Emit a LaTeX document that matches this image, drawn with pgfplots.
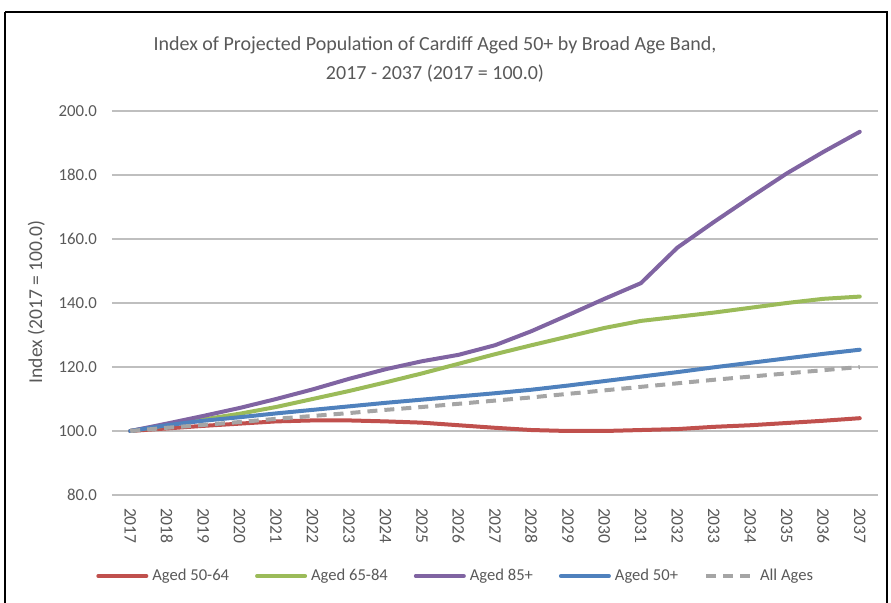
\documentclass[border=0pt]{standalone}
\usepackage{fontspec}
\setmainfont{Carlito}
\usepackage{pgfplots}
\pgfplotsset{compat=1.18}
\definecolor{cRed}{HTML}{C0504D}
\definecolor{cGreen}{HTML}{9BBB59}
\definecolor{cPurple}{HTML}{8064A2}
\definecolor{cBlue}{HTML}{4F81BD}
\definecolor{cGray}{HTML}{A5A5A5}
\definecolor{txt}{HTML}{595959}
\definecolor{grid}{HTML}{D9D9D9}
\begin{document}
\begin{tikzpicture}[x=0.5pt,y=-0.5pt]
\path[use as bounding box] (0,0) rectangle (891,603);
\begin{scope}
\clip (0,0) rectangle (891,603);
\draw[black,line width=1.1pt] (5,12) -- (887,12) -- (887,640) (5,12) -- (5,640);
\end{scope}
\node[txt,font=\fontsize{10}{12}\selectfont] at (435,45) {Index of Projected Population of Cardiff Aged 50+ by Broad Age Band,};
\node[txt,font=\fontsize{10}{12}\selectfont] at (435,74) {2017 - 2037 (2017 = 100.0)};
\coordinate (P) at (112,495);
\begin{axis}[
  at={(P)}, anchor=south west,
  scale only axis, width=383pt, height=192pt,
  xmin=2016.5, xmax=2037.5, ymin=80, ymax=200,
  xtick={2017,...,2037}, ytick={80,100,...,200},
  xticklabel style={rotate=-90, anchor=west, text=txt, font=\fontsize{8.8}{10}\selectfont, xshift=3pt},
  yticklabel style={text=txt, font=\fontsize{8.4}{10}\selectfont, xshift=-4pt},
  /pgf/number format/assume math mode=true,
  xticklabel={\pgfmathprintnumber[1000 sep=]{\tick}},
  yticklabel={\pgfmathprintnumber[fixed,fixed zerofill,precision=1]{\tick}},
  axis line style={draw=none},
  major tick length=0pt,
  xtick style={draw=none}, ytick style={draw=none},
  xmajorgrids=false, ymajorgrids=true,
  major grid style={grid, line width=0.6pt},
  xtick pos=bottom, ytick pos=left,
  ylabel={Index (2017 = 100.0)},
  ylabel style={text=txt, font=\fontsize{9.8}{11}\selectfont, xshift=0.5pt},
  legend columns=5,
  legend style={at={(0.45,-0.211)}, anchor=center, draw=none, fill=none,
    font=\fontsize{8.3}{10}\selectfont, text=txt,
    /tikz/every even column/.append style={column sep=11pt}},
  legend image code/.code={\draw[#1] (0pt,0pt) -- (24pt,0pt);},
  every axis plot/.append style={line width=2pt, line cap=round, line join=round},
  clip=false,
]
\addplot[cRed] coordinates {(2017,100.0)(2018,100.8)(2019,101.6)(2020,102.3)(2021,103.0)(2022,103.3)(2023,103.3)(2024,103.0)(2025,102.6)(2026,101.8)(2027,101.0)(2028,100.3)(2029,100.0)(2030,100.0)(2031,100.3)(2032,100.6)(2033,101.3)(2034,101.8)(2035,102.5)(2036,103.2)(2037,104.0)};
\addlegendentry{Aged 50-64}
\addplot[cGreen] coordinates {(2017,100.0)(2018,101.8)(2019,103.6)(2020,105.4)(2021,107.5)(2022,110.0)(2023,112.5)(2024,115.2)(2025,118.0)(2026,121.0)(2027,124.0)(2028,126.8)(2029,129.5)(2030,132.2)(2031,134.4)(2032,135.7)(2033,137.0)(2034,138.5)(2035,140.0)(2036,141.3)(2037,142.0)};
\addlegendentry{Aged 65-84}
\addplot[cPurple] coordinates {(2017,100.0)(2018,102.3)(2019,104.7)(2020,107.2)(2021,110.0)(2022,113.0)(2023,116.3)(2024,119.3)(2025,121.8)(2026,123.8)(2027,126.8)(2028,131.2)(2029,136.2)(2030,141.3)(2031,146.2)(2032,157.3)(2033,165.3)(2034,173.0)(2035,180.5)(2036,187.2)(2037,193.5)};
\addlegendentry{Aged 85+}
\addplot[cBlue] coordinates {(2017,100.0)(2018,101.8)(2019,103.2)(2020,104.3)(2021,105.5)(2022,106.6)(2023,107.7)(2024,108.8)(2025,109.8)(2026,110.8)(2027,111.8)(2028,112.9)(2029,114.2)(2030,115.6)(2031,117.0)(2032,118.4)(2033,119.9)(2034,121.3)(2035,122.7)(2036,124.1)(2037,125.4)};
\addlegendentry{Aged 50+}
\addplot[cGray, dash pattern=on 5pt off 3.5pt, line cap=butt] coordinates {(2017,100.0)(2018,101.0)(2019,101.9)(2020,102.8)(2021,103.8)(2022,104.7)(2023,105.6)(2024,106.6)(2025,107.5)(2026,108.5)(2027,109.5)(2028,110.5)(2029,111.6)(2030,112.7)(2031,113.8)(2032,114.9)(2033,116.0)(2034,117.0)(2035,118.0)(2036,119.0)(2037,120.0)};
\addlegendentry{All Ages}
\end{axis}
\end{tikzpicture}
\end{document}
